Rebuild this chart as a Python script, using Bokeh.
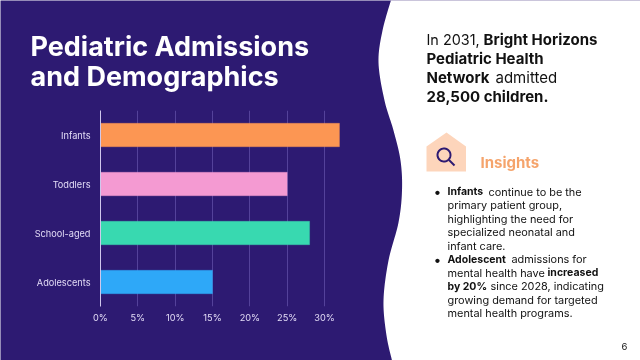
import numpy as np
from bokeh.plotting import figure
from bokeh.layouts import column
from bokeh.models import FixedTicker, Range1d
from bokeh.core.properties import value
from bokeh.embed import file_html
from bokeh.resources import INLINE

categories = ["Infants", "Toddlers", "School-aged", "Adolescents"]
values = [32, 25, 28, 15]
bar_colors = ["#FC9653", "#F49AD2", "#38D9B0", "#2EA8F8"]
x_ticks = [0, 5, 10, 15, 20, 25, 30]

PURPLE = "#2D1A72"
BODY = "Inter"

# backdrop: page-sized figure holding the curved panel, icon and copy
bg = figure(width=640, height=360, output_backend="svg", toolbar_location=None,
            x_range=Range1d(0, 640), y_range=Range1d(360, 0), min_border=0)
bg.frame_align = False
bg.axis.visible = False
bg.grid.visible = False
bg.outline_line_color = None
bg.background_fill_color = PURPLE
bg.border_fill_color = PURPLE

# chart: same size, transparent, laid over the backdrop
p = figure(width=640, height=360, output_backend="svg", toolbar_location=None,
           y_range=categories[::-1], x_range=Range1d(0, 32.94),
           min_border_left=100, min_border_right=294, min_border_top=110, min_border_bottom=54)
p.frame_align = False
p.background_fill_alpha = 0
p.border_fill_alpha = 0
p.outline_line_color = None
p.margin = (-360, 0, 0, 0)

p.hbar(y=categories, right=values, left=0, height=0.48, color=bar_colors, line_alpha=0.3)

p.xaxis.ticker = FixedTicker(ticks=x_ticks)
p.xaxis.major_label_overrides = {t: f"{t}%" for t in x_ticks}
for ax in (p.xaxis[0], p.yaxis[0]):
    ax.major_tick_line_color = None
    ax.minor_tick_line_color = None
    ax.major_tick_out = 0
    ax.major_label_text_color = "#E2DBF6"
    ax.major_label_text_font = BODY
    ax.major_label_text_font_size = "9.2px"
p.xaxis.axis_line_color = None
p.yaxis.axis_line_color = "#CFC7EC"
p.xaxis.major_label_standoff = 5
p.yaxis.major_label_standoff = 10
p.ygrid.grid_line_color = None
p.xgrid.grid_line_color = "#54429A"


def catmull(pts, n=12):
    pts = [pts[0]] + list(pts) + [pts[-1]]
    out = []
    for i in range(1, len(pts) - 2):
        a, b, c, d = map(np.array, pts[i - 1:i + 3])
        for t in np.linspace(0, 1, n, endpoint=False):
            out.append(0.5 * (2 * b + (c - a) * t + (2 * a - 5 * b + 4 * c - d) * t**2 + (3 * b - a - 3 * c + d) * t**3))
    out.append(np.array(pts[-1], dtype=float))
    return np.array(out)


edge = catmull([(391, -2), (382, 30), (378, 62), (384, 100), (393, 130), (400, 160), (401.5, 190),
                (398, 222), (388, 260), (383, 300), (386, 335), (392, 362)])
bg.patch(list(edge[:, 0]) + [642, 642], list(edge[:, 1]) + [362, -2], color="white", line_width=0)
bg.patch([426, 426, 446, 465.5, 465.5], [171, 146, 132, 146, 171], color="#FDD5BB", line_width=0)
th = np.linspace(0, 2 * np.pi, 40)
bg.line(443.5 + 6.5 * np.cos(th), 154.5 + 6.5 * np.sin(th), line_color=PURPLE, line_width=2)
bg.line([448.5, 454], [159.5, 165], line_color=PURPLE, line_width=2)


def txt(x, y, s, size, color="#111111", bold=False):
    bg.text([x], [y], text=[s], text_font=value(BODY), text_font_size=f"{size}px", text_color=color,
            text_font_style="bold" if bold else "normal", text_baseline="middle", text_align="left")


txt(30, 46, "Pediatric Admissions", 27, "white", True)
txt(30, 76, "and Demographics", 27, "white", True)

top = [
    (426, 39, "In 2031,", False, 14.4), (483, 39, "Bright Horizons", True, 15),
    (426, 58, "Pediatric Health", True, 15),
    (426, 77, "Network", True, 15), (495, 77, "admitted", False, 15),
    (426, 96, "28,500 children.", True, 15),
]
for x, y, s, b, size in top:
    txt(x, y, s, size, bold=b)

txt(480, 162, "Insights", 15, "#F5A46C", True)

rows = [
    (447, 191, "Infants", True), (488, 191, "continue to be the", False),
    (447, 204.5, "primary patient group,", False),
    (447, 218, "highlighting the need for", False),
    (447, 231.5, "specialized neonatal and", False),
    (447, 245, "infant care.", False),
    (447, 258.5, "Adolescent", True), (511, 258.5, "admissions for", False),
    (447, 272, "mental health have", False), (547, 272, "increased", True),
    (447, 285.5, "by 20%", True), (490, 285.5, "since 2028, indicating", False),
    (447, 299, "growing demand for targeted", False),
    (447, 312.5, "mental health programs.", False),
]
for x, y, s, b in rows:
    txt(x, y, s, 10.5 if b else 10.9, bold=b)
txt(433, 191, "•", 14)
txt(433, 258.5, "•", 14)
txt(621, 346, "6", 9.5)

root = column(bg, p, spacing=0, width=640, height=360)
root.styles = {"position": "fixed", "left": "0", "top": "0"}

open("out.html", "w").write(file_html(root, INLINE))
